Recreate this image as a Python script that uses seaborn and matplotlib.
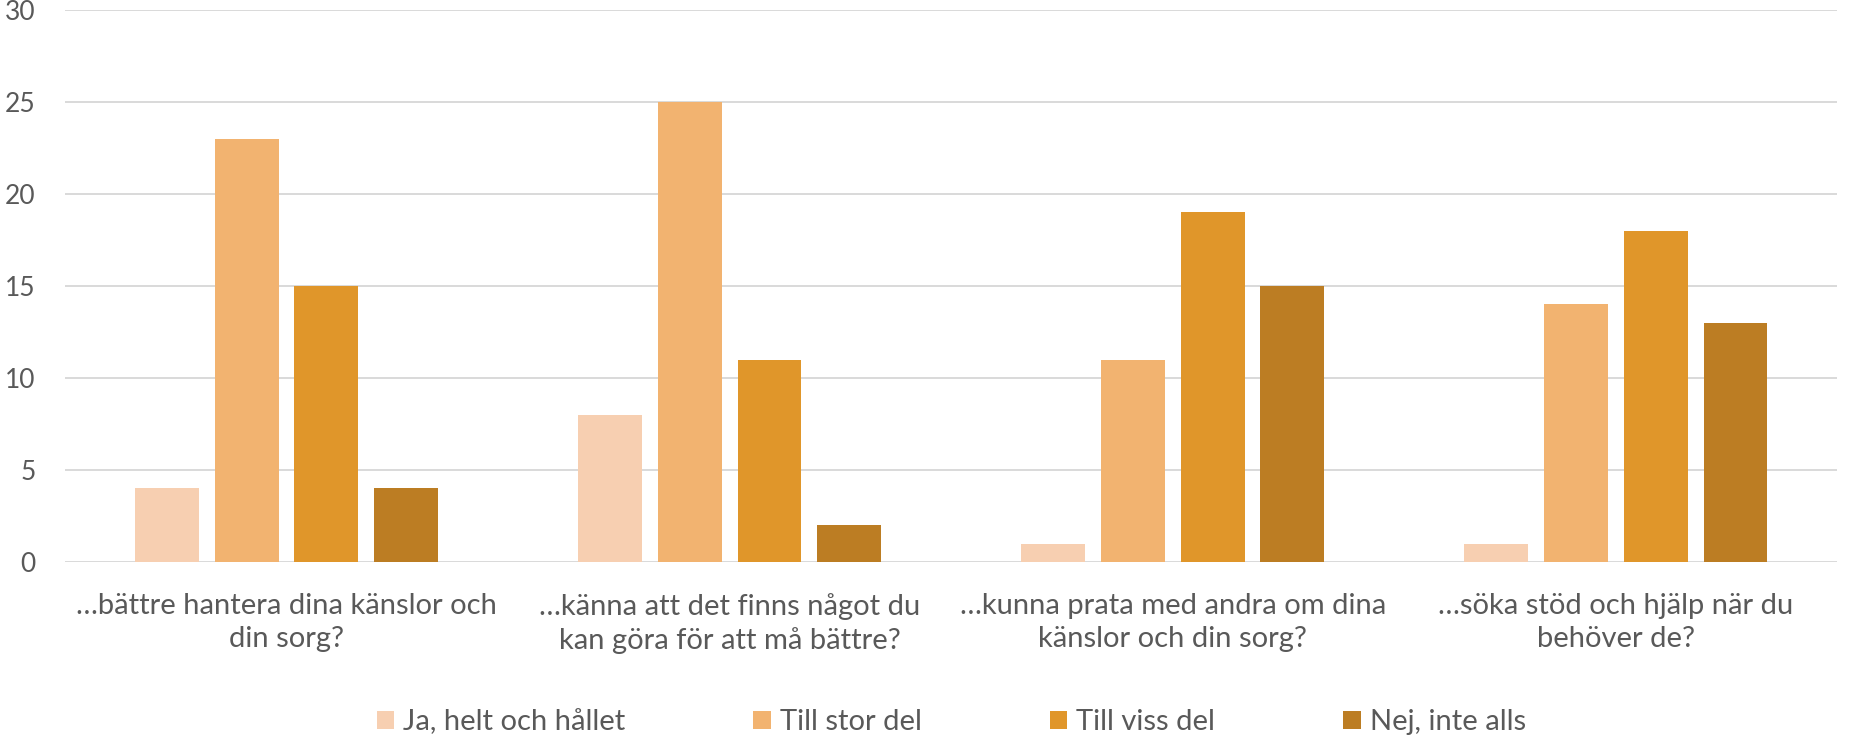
import numpy as np
import pandas as pd
import seaborn as sns
import matplotlib.pyplot as plt

questions = ["…bättre hantera dina känslor och\ndin sorg?",
             "…känna att det finns något du\nkan göra för att må bättre?",
             "…kunna prata med andra om dina\nkänslor och din sorg?",
             "…söka stöd och hjälp när du\nbehöver de?"]
answers = ["Ja, helt och hållet", "Till stor del", "Till viss del", "Nej, inte alls"]
ja_helt = [4, 8, 1, 1]
stor_del = [23, 25, 11, 14]
viss_del = [15, 11, 19, 18]
inte_alls = [4, 2, 15, 13]
colors = ["#F7CFB1", "#F2B370", "#E0962A", "#BC7D23"]

rows = []
for ans, vals in zip(answers, [ja_helt, stor_del, viss_del, inte_alls]):
    for q, v in zip(questions, vals):
        rows.append({"fraga": q, "svar": ans, "antal": v})
df = pd.DataFrame(rows)

sns.set_style("white")
plt.rcParams['font.family'] = ['Lato', 'DejaVu Sans']
grey = "#595959"

fig = plt.figure(figsize=(18.56, 7.42), dpi=100)
ax = fig.add_axes([0.035, 0.2426, 0.955, 0.744])
sns.barplot(data=df, x="fraga", y="antal", hue="svar", hue_order=answers,
            palette=colors, width=0.72, gap=0.2, ax=ax, saturation=1,
            linewidth=0, edgecolor="none", zorder=3)

ax.set_ylim(0, 30)
ax.set_yticks(range(0, 31, 5))
ax.set_xlim(-0.5, 3.5)
ax.set_xlabel("")
ax.set_ylabel("")
for s in ax.spines.values():
    s.set_visible(False)
ax.yaxis.grid(True, color="#D9D9D9", linewidth=1.4, zorder=0)
ax.set_axisbelow(True)
ax.tick_params(axis="y", length=0, pad=21, labelsize=19, labelcolor=grey)
ax.tick_params(axis="x", length=0, pad=22, labelsize=21, labelcolor=grey)
for lab in ax.get_xticklabels():
    lab.set_linespacing(1.35)

leg = ax.legend(loc="center", bbox_to_anchor=(0.5, -0.29), ncol=4, frameon=False,
                fontsize=21, handlelength=0.6, handleheight=0.6,
                handletextpad=0.3, columnspacing=4.4)
for t in leg.get_texts():
    t.set_color(grey)

fig.savefig("out.png", dpi=100)
